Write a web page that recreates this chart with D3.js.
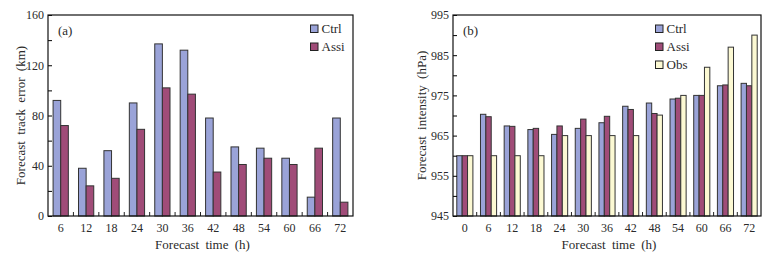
<!DOCTYPE html>
<html>
<head>
<meta charset="utf-8">
<script src="https://cdn.jsdelivr.net/npm/d3@7"></script>
<style>
  body { margin: 0; background: #fff; }
  svg text { font-family: "Liberation Serif", "DejaVu Serif", serif; fill: #2a2a2a; }
</style>
</head>
<body>
<div id="container"></div>
<script>
/* DATA */
const hoursA = [6, 12, 18, 24, 30, 36, 42, 48, 54, 60, 66, 72]
const ctrlTrack = [92, 38, 52, 90, 137, 132, 78, 55, 54, 46, 15, 78]
const assiTrack = [72, 24, 30, 69, 102, 97, 35, 41, 46, 41, 54, 11]

const hoursB = [0, 6, 12, 18, 24, 30, 36, 42, 48, 54, 60, 66, 72]
const ctrlInt = [960, 970.3, 967.4, 966.5, 965.3, 966.8, 968.2, 972.3, 973.1, 974.1, 975, 977.4, 978]
const assiInt = [960, 969.7, 967.3, 966.8, 967.4, 969.1, 969.8, 971.5, 970.5, 974.3, 975, 977.6, 977.4]
const obsInt  = [960, 960, 960, 960, 965, 965, 965, 965, 970.1, 975, 982, 987, 990]

const yTicksA = [0, 40, 80, 120, 160]
const yTicksB = [945, 955, 965, 975, 985, 995]

/* CONSTANTS */
const width = 767, height = 256
const colors = {Ctrl: "#9aa3d8", Assi: "#a04c78", Obs: "#fcf9d3"}

const svg = d3.select("#container")
  .append("svg")
  .attr("width", width)
  .attr("height", height)

function panel(opts) {
  const {left, right, top, bottom, hours, series, yDomain, yTicks, minorStep,
    groupFrac, tag, ytitle, ytitleX, legendX} = opts

  const g = svg.append("g")

  const x = d3.scaleBand().domain(hours).range([left, right]).padding(0)
  const y = d3.scaleLinear().domain(yDomain).range([bottom, top])
  const names = series.map(s => s.name)
  const gw = x.bandwidth() * groupFrac
  const x1 = d3.scaleBand().domain(names).range([0, gw]).padding(0)
  const off = (x.bandwidth() - gw) / 2

  // bars
  series.forEach(s => {
    g.selectAll(null)
      .data(s.values.map((v, i) => ({h: hours[i], v})))
      .join("rect")
      .attr("x", d => x(d.h) + off + x1(s.name))
      .attr("y", d => y(d.v))
      .attr("width", x1.bandwidth())
      .attr("height", d => bottom - y(d.v))
      .attr("fill", colors[s.name])
      .attr("stroke", "#333")
      .attr("stroke-width", 1)
  })

  // y axis, ticks pointing in
  const minor = d3.range(yDomain[0], yDomain[1] + 0.001, minorStep)
  g.append("g")
    .attr("transform", `translate(${left},0)`)
    .call(d3.axisLeft(y).tickValues(minor).tickSize(-4).tickFormat(""))
    .call(s => s.select(".domain").remove())
  g.append("g")
    .attr("transform", `translate(${left},0)`)
    .call(d3.axisLeft(y).tickValues(yTicks).tickSize(0).tickPadding(4))
    .call(s => s.select(".domain").remove())
    .selectAll("text").style("font-size", "12px")

  // x axis labels and in-pointing ticks between groups
  g.append("g")
    .attr("transform", `translate(0,${bottom})`)
    .call(d3.axisBottom(x).tickSize(0).tickPadding(7))
    .call(s => s.select(".domain").remove())
    .selectAll("text").style("font-size", "12px")
  g.selectAll(null)
    .data(hours.slice(1))
    .join("line")
    .attr("x1", d => x(d)).attr("x2", d => x(d))
    .attr("y1", bottom).attr("y2", bottom - 4)
    .attr("stroke", "#222")

  // frame
  g.append("rect")
    .attr("x", left).attr("y", top)
    .attr("width", right - left).attr("height", bottom - top)
    .attr("fill", "none").attr("stroke", "#111").attr("stroke-width", 1.2)

  g.append("text").attr("x", left + 10).attr("y", top + 20)
    .style("font-size", "13px").text(tag)

  g.append("text")
    .attr("x", (left + right) / 2 + 2).attr("y", 249)
    .attr("text-anchor", "middle").style("font-size", "13px")
    .style("word-spacing", "3px")
    .text("Forecast time (h)")

  g.append("text")
    .attr("transform", `translate(${ytitleX},${(top + bottom) / 2}) rotate(-90)`)
    .attr("text-anchor", "middle").style("font-size", "13px")
    .style("word-spacing", "3px")
    .text(ytitle)

  // legend
  const leg = g.selectAll(null).data(names).join("g")
    .attr("transform", (d, i) => `translate(${legendX},${top + 10 + i * 18})`)
  leg.append("rect").attr("width", 7.5).attr("height", 7.5)
    .attr("fill", d => colors[d]).attr("stroke", "#222")
  leg.append("text").attr("x", 11).attr("y", 7.5)
    .style("font-size", "13px").text(d => d)
}

panel({
  left: 48, right: 353, top: 15, bottom: 216,
  hours: hoursA,
  series: [{name: "Ctrl", values: ctrlTrack}, {name: "Assi", values: assiTrack}],
  yDomain: [0, 160], yTicks: yTicksA, minorStep: 20, groupFrac: 0.6,
  tag: "(a)", ytitle: "Forecast track error (km)", ytitleX: 25, legendX: 310.5
})

panel({
  left: 453, right: 761, top: 15, bottom: 216,
  hours: hoursB,
  series: [{name: "Ctrl", values: ctrlInt}, {name: "Assi", values: assiInt}, {name: "Obs", values: obsInt}],
  yDomain: [945, 995], yTicks: yTicksB, minorStep: 5, groupFrac: 0.68,
  tag: "(b)", ytitle: "Forecast intensity (hPa)", ytitleX: 426, legendX: 655.5
})
</script>
</body>
</html>
